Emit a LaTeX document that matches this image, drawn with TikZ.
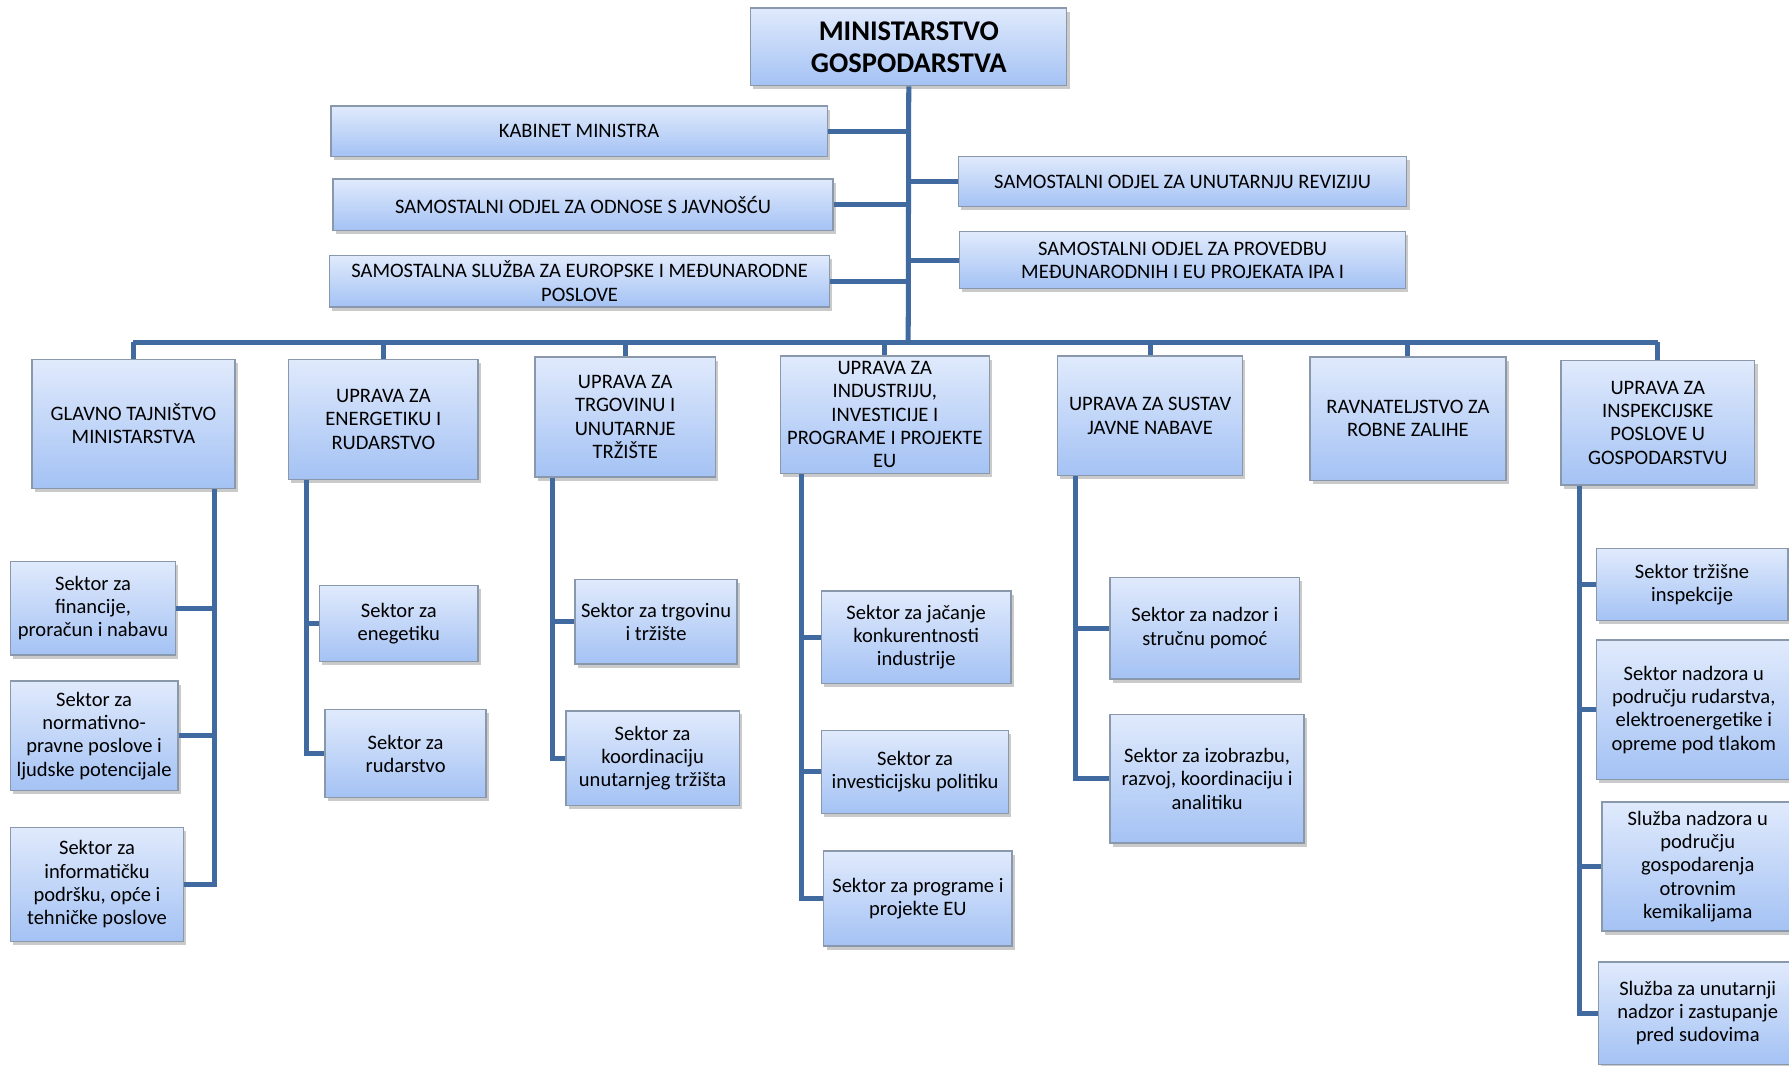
\documentclass[tikz,border=0pt]{standalone}
\usepackage{fontspec}
\setmainfont{Carlito}
\usepackage{tikz}
\usetikzlibrary{shadows}
\definecolor{boxtop}{RGB}{224,234,252}
\definecolor{boxbot}{RGB}{164,194,244}
\definecolor{boxline}{RGB}{138,152,172}
\definecolor{connline}{RGB}{64,106,160}

\begin{document}
\begin{tikzpicture}[x=0.5pt,y=-0.5pt,
  box/.style={draw=boxline, line width=0.6pt, top color=boxtop, bottom color=boxbot,
    align=center, inner sep=0.5pt, font=\fontsize{9}{10.2}\selectfont,
    drop shadow={shadow xshift=1.2pt, shadow yshift=-1.6pt, opacity=0.35, fill=black!60}},
  conn/.style={draw=connline, line width=2.2pt}]
\useasboundingbox (0,0) rectangle (1568,934);

%Box: top
\node[box, minimum width=138.5pt, minimum height=34pt, font=\bfseries\fontsize{12.5}{14}\selectfont] (min) at (796.5,41) {MINISTARSTVO\\GOSPODARSTVA};

%Box: staff units
\node[box, minimum width=217.5pt, minimum height=22pt] (kab) at (507.5,115) {KABINET MINISTRA};
\node[box, minimum width=219pt, minimum height=22.5pt] (jav) at (511,179.5) {SAMOSTALNI ODJEL ZA ODNOSE S JAVNOŠĆU};
\node[box, minimum width=219pt, minimum height=22.5pt] (eur) at (508,246.5) {SAMOSTALNA SLUŽBA ZA EUROPSKE I MEĐUNARODNE\\POSLOVE};
\node[box, minimum width=196.5pt, minimum height=22pt] (rev) at (1036.5,159) {SAMOSTALNI ODJEL ZA UNUTARNJU REVIZIJU};
\node[box, minimum width=195.5pt, minimum height=25pt] (ipa) at (1036.5,228) {SAMOSTALNI ODJEL ZA PROVEDBU\\MEĐUNARODNIH I EU PROJEKATA IPA I};

%Box: directorates
\node[box, minimum width=89pt, minimum height=56.5pt] (glavno) at (117,371.5) {GLAVNO TAJNIŠTVO\\MINISTARSTVA};
\node[box, minimum width=83pt, minimum height=52.5pt] (energ) at (336,367.5) {UPRAVA ZA\\ENERGETIKU I\\RUDARSTVO};
\node[box, minimum width=79pt, minimum height=52.5pt] (trgov) at (548,365.5) {UPRAVA ZA\\TRGOVINU I\\UNUTARNJE\\TRŽIŠTE};
\node[box, minimum width=91.5pt, minimum height=51.5pt] (indus) at (775.5,363.5) {UPRAVA ZA\\INDUSTRIJU,\\INVESTICIJE I\\PROGRAME I PROJEKTE\\EU};
\node[box, minimum width=81pt, minimum height=52.5pt] (nabava) at (1008,364.5) {UPRAVA ZA SUSTAV\\JAVNE NABAVE};
\node[box, minimum width=86pt, minimum height=54pt] (robne) at (1234,367) {RAVNATELJSTVO ZA\\ROBNE ZALIHE};
\node[box, minimum width=85pt, minimum height=54.5pt] (inspek) at (1453,370.5) {UPRAVA ZA\\INSPEKCIJSKE\\POSLOVE U\\GOSPODARSTVU};

%Box: sectors
\node[box, minimum width=72.5pt, minimum height=41pt] (fin) at (81.5,533) {Sektor za\\financije,\\proračun i nabavu};
\node[box, minimum width=73.5pt, minimum height=48pt] (norm) at (82.5,645) {Sektor za\\normativno-\\pravne poslove i\\ljudske potencijale};
\node[box, minimum width=76pt, minimum height=50pt] (info) at (85,775) {Sektor za\\informatičku\\podršku, opće i\\tehničke poslove};
\node[box, minimum width=69.5pt, minimum height=33.5pt] (eneg) at (349.5,546.5) {Sektor za\\enegetiku};
\node[box, minimum width=70.5pt, minimum height=38.5pt] (rud) at (355.5,660.5) {Sektor za\\rudarstvo};
\node[box, minimum width=71pt, minimum height=37pt] (trz) at (575,545) {Sektor za trgovinu\\i tržište};
\node[box, minimum width=76pt, minimum height=41.5pt] (koord) at (572,664.5) {Sektor za\\koordinaciju\\unutarnjeg tržišta};
\node[box, minimum width=83pt, minimum height=40.5pt] (jac) at (803,558.5) {Sektor za jačanje\\konkurentnosti\\industrije};
\node[box, minimum width=82pt, minimum height=36.5pt] (inv) at (802,676.5) {Sektor za\\investicijsku politiku};
\node[box, minimum width=82.5pt, minimum height=41.5pt] (prog) at (804.5,787.5) {Sektor za programe i\\projekte EU};
\node[box, minimum width=83pt, minimum height=44.5pt] (nadz) at (1056,550.5) {Sektor za nadzor i\\stručnu pomoć};
\node[box, minimum width=85pt, minimum height=56.5pt] (izob) at (1058,682.5) {Sektor za izobrazbu,\\razvoj, koordinaciju i\\analitiku};
\node[box, minimum width=84pt, minimum height=31.5pt] (trzi) at (1483,512.5) {Sektor tržišne\\inspekcije};
\node[box, minimum width=85.5pt, minimum height=61pt] (nadzrud) at (1484.5,622) {Sektor nadzora u\\području rudarstva,\\elektroenergetike i\\opreme pod tlakom};
\node[box, minimum width=84pt, minimum height=56.5pt] (otrov) at (1488,759.5) {Služba nadzora u\\području\\gospodarenja\\otrovnim\\kemikalijama};
\node[box, minimum width=87pt, minimum height=45pt] (sud) at (1488,888) {Služba za unutarnji\\nadzor i zastupanje\\pred sudovima};

%Lines
\coordinate (bus) at (796,300);
\draw[conn] (min.south) -- (bus);
\draw[conn] (bus -| glavno.north) -- (bus -| inspek.north);
\foreach \n in {glavno,energ,trgov,indus,nabava,robne,inspek}
  \draw[conn] (bus -| \n.north) -- (\n.north);
\foreach \n in {kab,jav,eur}
  \draw[conn] (\n.east) -- (\n.east -| min.south);
\foreach \n in {rev,ipa}
  \draw[conn] (\n.west) -- (\n.west -| min.south);

\foreach \n in {fin,norm,info}
  \draw[conn] ([xshift=-9.5pt]glavno.south east) |- (\n.east);
\foreach \n in {eneg,rud}
  \draw[conn] ([xshift=8pt]energ.south west) |- (\n.west);
\foreach \n in {trz,koord}
  \draw[conn] ([xshift=8pt]trgov.south west) |- (\n.west);
\foreach \n in {jac,inv,prog}
  \draw[conn] ([xshift=9.5pt]indus.south west) |- (\n.west);
\foreach \n in {nadz,izob}
  \draw[conn] ([xshift=8pt]nabava.south west) |- (\n.west);
\foreach \n in {trzi,nadzrud,otrov,sud}
  \draw[conn] ([xshift=8.5pt]inspek.south west) |- (\n.west);

\end{tikzpicture}
\end{document}
